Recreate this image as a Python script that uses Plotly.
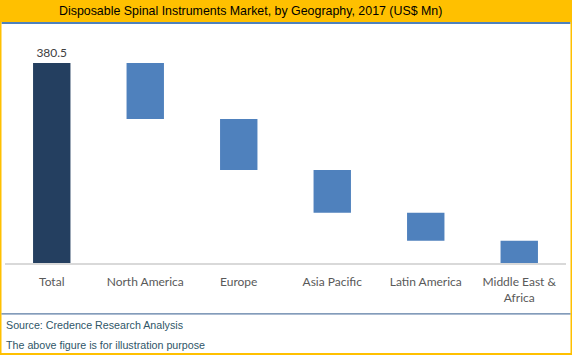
import plotly.graph_objects as go

categories = ["Total", "North America", "Europe", "Asia Pacific", "Latin America", "Middle East &<br>Africa"]
total_value = 380.5
region_values = [106.5, 97.0, 81.5, 53.3, 42.2]

# waterfall bases computed from data
values = [total_value] + region_values
bases = [0]
remaining = total_value
for v in region_values:
    remaining -= v
    bases.append(remaining)

colors = ["#243F60"] + ["#4F81BD"] * len(region_values)
texts = [f"{total_value}"] + [""] * len(region_values)

W, H = 572, 355
L, R, T, B = 5, 6, 40, 92
PW, PH = W - L - R, H - T - B

def px(x):
    return (x - L) / PW

def py(y):
    return (H - B - y) / PH

fig = go.Figure()
fig.add_trace(go.Bar(
    x=categories, y=values, base=bases,
    marker=dict(color=colors, line=dict(width=0)),
    width=0.4,
    text=texts, textposition="outside", cliponaxis=False,
    textfont=dict(family="Lato, Open Sans, sans-serif", size=12, color="#404040"),
    hoverinfo="skip",
))

shapes = [
    # title bar
    dict(type="rect", xref="paper", yref="paper", x0=px(0), x1=px(572), y0=py(0), y1=py(22),
         fillcolor="#FFC000", line=dict(width=0), layer="below"),
    dict(type="rect", xref="paper", yref="paper", x0=px(1.5), x1=px(570.5), y0=py(22), y1=py(24),
         fillcolor="#4F81BD", line=dict(width=0)),
    # borders
    dict(type="rect", xref="paper", yref="paper", x0=px(0), x1=px(1.5), y0=py(22), y1=py(355),
         fillcolor="#FFC000", line=dict(width=0)),
    dict(type="rect", xref="paper", yref="paper", x0=px(570.5), x1=px(572), y0=py(22), y1=py(355),
         fillcolor="#FFC000", line=dict(width=0)),
    dict(type="rect", xref="paper", yref="paper", x0=px(0), x1=px(572), y0=py(353), y1=py(355),
         fillcolor="#FFC000", line=dict(width=0)),
    # separator
    dict(type="rect", xref="paper", yref="paper", x0=px(1.5), x1=px(570.5), y0=py(313.3), y1=py(314.6),
         fillcolor="#5A7BA3", line=dict(width=0)),
]

annotations = [
    dict(text="Disposable Spinal Instruments Market, by Geography, 2017 (US$ Mn)",
         xref="paper", yref="paper", x=px(250), y=py(11), xanchor="center", yanchor="middle",
         showarrow=False, font=dict(family="Liberation Sans, Arial, sans-serif", size=12.4, color="#000000")),
    dict(text="Source: Credence Research Analysis",
         xref="paper", yref="paper", x=px(4), y=py(324.5), xanchor="left", yanchor="middle",
         showarrow=False, font=dict(family="Liberation Sans, Arial, sans-serif", size=10.7, color="#2F5668")),
    dict(text="The above figure is for illustration purpose",
         xref="paper", yref="paper", x=px(4), y=py(344.5), xanchor="left", yanchor="middle",
         showarrow=False, font=dict(family="Liberation Sans, Arial, sans-serif", size=10.7, color="#2F5668")),
]

fig.update_layout(
    width=W, height=H,
    margin=dict(l=L, r=R, t=T, b=B, pad=0),
    paper_bgcolor="white", plot_bgcolor="white",
    showlegend=False,
    shapes=shapes,
    annotations=annotations,
    xaxis=dict(showline=True, linecolor="#D9D9D9", linewidth=1.5, showgrid=False, zeroline=False,
               ticks="", ticklabelstandoff=7,
               tickfont=dict(family="Lato, Open Sans, sans-serif", size=12, color="#595959"),
               fixedrange=True),
    yaxis=dict(visible=False, range=[0, PH * total_value / 200], fixedrange=True),
)

fig.write_html("out.html", config={"displayModeBar": False},
               post_script="document.body.style.margin='0';document.body.style.padding='0';")
